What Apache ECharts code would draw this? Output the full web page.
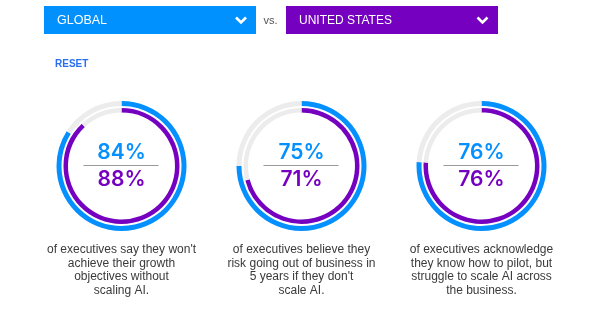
<!DOCTYPE html>
<html>
<head>
<meta charset="utf-8">
<script src="https://cdn.jsdelivr.net/npm/echarts@6/dist/echarts.min.js"></script>
<style>
html,body{margin:0;padding:0;background:#fff;}
#chart{width:602px;height:322px;}
</style>
</head>
<body>
<div id="chart"></div>
<script>
// ---- data ----
const captions = [
  "of executives say they won't\nachieve their growth\nobjectives without\nscaling AI.",
  "of executives believe they\nrisk going out of business in\n5 years if they don't\nscale AI.",
  "of executives acknowledge\nthey know how to pilot, but\nstruggle to scale AI across\nthe business."
];
const globalValues = [84, 75, 76];
const usValues = [88, 71, 76];
const compareLabels = ['GLOBAL', 'UNITED STATES'];
const vsLabel = 'vs.';
const resetLabel = 'RESET';

// ---- style ----
const BLUE = '#0590ff';
const PURPLE = '#7500c0';
const TRACK = '#ececec';
const centersX = [121.5, 301.5, 481.5];
const cy = 166;

const chart = echarts.init(document.getElementById('chart'), null, {renderer: 'canvas'});

const series = [];
globalValues.forEach((v, i) => {
  series.push({
    type: 'pie', silent: true, animation: false,
    center: [centersX[i], cy], radius: [60, 65],
    startAngle: 90, clockwise: true,
    label: {show: false}, labelLine: {show: false},
    emphasis: {disabled: true},
    data: [
      {value: v, itemStyle: {color: BLUE}},
      {value: 100 - v, itemStyle: {color: TRACK}}
    ]
  });
  series.push({
    type: 'pie', silent: true, animation: false,
    center: [centersX[i], cy], radius: [53.5, 58],
    startAngle: 90, clockwise: true,
    label: {show: false}, labelLine: {show: false},
    emphasis: {disabled: true},
    data: [
      {value: usValues[i], itemStyle: {color: PURPLE}},
      {value: 100 - usValues[i], itemStyle: {color: TRACK}}
    ]
  });
});

const graphics = [];
// header boxes
graphics.push({type: 'rect', shape: {x: 44, y: 6, width: 212, height: 28}, style: {fill: '#0091ff'}, silent: true});
graphics.push({type: 'rect', shape: {x: 286, y: 6, width: 212, height: 28}, style: {fill: '#7500c0'}, silent: true});
graphics.push({type: 'text', x: 57, y: 20.5, style: {text: compareLabels[0], fill: '#fff', font: '12.5px "Liberation Sans", Arial, sans-serif', textVerticalAlign: 'middle'}, silent: true});
graphics.push({type: 'text', x: 299, y: 20.5, style: {text: compareLabels[1], fill: '#fff', font: '12px "Liberation Sans", Arial, sans-serif', textVerticalAlign: 'middle'}, silent: true});
graphics.push({type: 'polyline', shape: {points: [[236, 17.5], [241, 22.5], [246, 17.5]]}, style: {stroke: '#fff', lineWidth: 2.6, fill: null}, silent: true});
graphics.push({type: 'polyline', shape: {points: [[477.5, 17.5], [482.5, 22.5], [487.5, 17.5]]}, style: {stroke: '#fff', lineWidth: 2.6, fill: null}, silent: true});
graphics.push({type: 'text', x: 270.5, y: 21, style: {text: vsLabel, fill: '#555', font: '11px "Liberation Sans", Arial, sans-serif', textAlign: 'center', textVerticalAlign: 'middle'}, silent: true});
graphics.push({type: 'text', x: 55, y: 64.5, style: {text: resetLabel, fill: '#2a6ef0', font: 'bold 10px "Liberation Sans", Arial, sans-serif', textVerticalAlign: 'middle'}, silent: true});

centersX.forEach((x, i) => {
  graphics.push({type: 'text', x: x, y: 152.5, style: {text: globalValues[i] + '%', fill: BLUE, font: '600 21px Inter, sans-serif', textAlign: 'center', textVerticalAlign: 'middle'}, silent: true});
  graphics.push({type: 'text', x: x, y: 179.5, style: {text: usValues[i] + '%', fill: PURPLE, font: '600 21px Inter, sans-serif', textAlign: 'center', textVerticalAlign: 'middle'}, silent: true});
  graphics.push({type: 'line', shape: {x1: x - 38, y1: 165.5, x2: x + 37, y2: 165.5}, style: {stroke: '#999', lineWidth: 1}, silent: true});
  graphics.push({type: 'text', x: x, y: 243.3, style: {text: captions[i], fill: '#3a3a3a', font: '12px "Liberation Sans", Arial, sans-serif', textAlign: 'center', textVerticalAlign: 'top', lineHeight: 13.5}, silent: true});
});

chart.setOption({
  animation: false,
  backgroundColor: '#fff',
  series: series,
  graphic: graphics
});
</script>
</body>
</html>
